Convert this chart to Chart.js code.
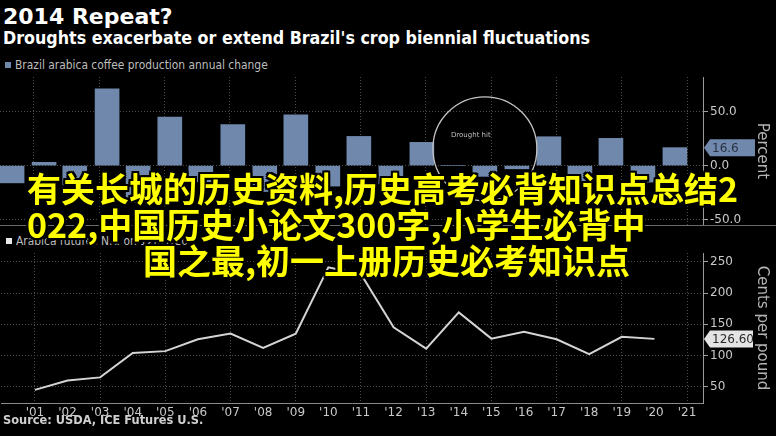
<!DOCTYPE html>
<html><head><meta charset="utf-8">
<script src="https://cdn.jsdelivr.net/npm/chart.js@4.4.1/dist/chart.umd.min.js"></script>
<style>
html,body{margin:0;padding:0;background:#000;width:776px;height:436px;overflow:hidden}
body{position:relative;font-family:"DejaVu Sans",sans-serif}
.abs{position:absolute;white-space:nowrap}
#title{left:3px;top:4px;font:bold 22px/26px "DejaVu Sans";color:#fff}
#subtitle{left:3px;top:28px;font:bold 17.7px/20px "DejaVu Sans Condensed";color:#fff}
.legend{font:11.9px/13px "DejaVu Sans Condensed";color:#bdbdbd}
.legend i{display:inline-block;width:6px;height:6px;margin-right:4px;vertical-align:1px}
#leg1{left:5px;top:59px}
#leg2{left:6px;top:235px}
#topWrap{left:0;top:55px;width:776px;height:190px}
#botWrap{left:0;top:233px;width:776px;height:203px}
#sep{left:0;top:225px;width:776px;height:1px;background:#6a6a6a}
#source{left:3px;top:414px;font:bold 11.4px/13px "DejaVu Sans";color:#cfcfcf}
.ov{font:bold 34px/36px "Noto Sans CJK SC";color:#ffff00;
 text-shadow:2px 0 0 #000,-2px 0 0 #000,0 2px 0 #000,0 -2px 0 #000,2px 2px 0 #000,-2px -2px 0 #000,2px -2px 0 #000,-2px 2px 0 #000}
#ov1{left:27px;top:170px}
#ov2{left:27px;top:206px}
#ov3{left:143px;top:242px}
</style></head>
<body>
<div class="abs" id="title">2014 Repeat?</div>
<div class="abs" id="subtitle">Droughts exacerbate or extend Brazil's crop biennial fluctuations</div>
<div class="abs legend" id="leg1"><i style="background:#6f88ab"></i>Brazil arabica coffee production annual change</div>
<div class="abs legend" id="leg2"><i style="background:#e8e8e8"></i>Arabica futures N.Y. on 12/31/20</div>
<div class="abs" id="topWrap"><canvas id="topChart" width="776" height="190"></canvas></div>
<div class="abs" id="sep"></div>
<div class="abs" id="botWrap"><canvas id="botChart" width="776" height="203"></canvas></div>
<div class="abs" id="source">Source: USDA, ICE Futures U.S.</div>
<div class="abs ov" id="ov1">有关长城的历史资料,历史高考必背知识点总结2</div>
<div class="abs ov" id="ov2">022,中国历史小论文300字,小学生必背中</div>
<div class="abs ov" id="ov3">国之最,初一上册历史必考知识点</div>
<script>
// ---- data ----
const barDates = [2000.33, 2001.31, 2002.25, 2003.24, 2004.19, 2005.16, 2006.11, 2007.09, 2008.07, 2009.02, 2010.00,
                  2010.95, 2011.93, 2012.88, 2013.83, 2014.81, 2015.79, 2016.77, 2017.72, 2018.67, 2019.65, 2020.63];
const productionChange = [-16, 3, -18, 71, -34, 45, -15, 38, -24, 47, -19,
                          27, -17, 21.5, 0, -10, -3, 26.7, -14.7, 25.2, -15.3, 16.6];
const priceYears = [2001, 2002, 2003, 2004, 2005, 2006, 2007, 2008, 2009, 2010,
                    2011, 2012, 2013, 2014, 2015, 2016, 2017, 2018, 2019, 2020];
const futuresPrice = [45, 60, 65, 104, 107, 126, 135, 112, 135, 241,
                      230, 145, 111, 169, 127, 138, 126, 102, 130, 126.6];
const tickYears = [2001, 2002, 2003, 2004, 2005, 2006, 2007, 2008, 2009, 2010, 2011,
                   2012, 2013, 2014, 2015, 2016, 2017, 2018, 2019, 2020, 2021];
const xTickLabels = ["'01","'02","'03","'04","'05","'06","'07","'08","'09","'10","'11",
                     "'12","'13","'14","'15","'16","'17","'18","'19","'20","'21"];
const pctTicks = [-50, 0, 50];
const centsTicks = [50, 100, 150, 200, 250];
const droughtNote = {x: 2014.81, y: 15.5, text: 'Drought hit', textX: 2014.38, textY: 28};

const X_MIN = 1999.96, X_MAX = 2021.49;
const BAR = '#6f88ab';
const GRID = '#4a4a4a';
const LABEL = '#c8c8c8';

const oddGrid = ctx => (ctx.tick && Math.round(ctx.tick.value) % 2 === 1) ? GRID : 'rgba(0,0,0,0)';

const lastValueTag = {
  id: 'lastValueTag',
  afterDraw(chart, args, opts) {
    const data = chart.data.datasets[0].data;
    const last = data[data.length - 1];
    const y = chart.scales.y.getPixelForValue(last.y);
    const x0 = chart.chartArea.right + 1;
    const ctx = chart.ctx, h = 17, tip = 6, w = opts.width;
    ctx.save();
    ctx.beginPath();
    ctx.moveTo(x0, y); ctx.lineTo(x0 + tip, y - h / 2); ctx.lineTo(x0 + w, y - h / 2);
    ctx.lineTo(x0 + w, y + h / 2); ctx.lineTo(x0 + tip, y + h / 2); ctx.closePath();
    ctx.fillStyle = opts.fill; ctx.fill();
    ctx.fillStyle = opts.color;
    ctx.font = '12px "DejaVu Sans"';
    ctx.textBaseline = 'middle'; ctx.textAlign = 'left';
    ctx.fillText(last.y.toFixed(opts.decimals), x0 + tip + 2, y + 1);
    ctx.restore();
  }
};

const circleNote = {
  id: 'circleNote',
  afterDatasetsDraw(chart) {
    const {x, y} = chart.scales;
    const ctx = chart.ctx;
    const cx = x.getPixelForValue(droughtNote.x), cy = y.getPixelForValue(droughtNote.y);
    ctx.save();
    ctx.beginPath();
    ctx.arc(cx, cy, 52, 0, Math.PI * 2);
    ctx.strokeStyle = '#c4c4c4'; ctx.lineWidth = 1.3; ctx.stroke();
    ctx.fillStyle = '#bdbdbd';
    ctx.font = '7px "DejaVu Sans"';
    ctx.textAlign = 'center'; ctx.textBaseline = 'middle';
    ctx.fillText(droughtNote.text, x.getPixelForValue(droughtNote.textX), y.getPixelForValue(droughtNote.textY));
    ctx.restore();
  }
};

const yTitle = (text) => ({display: true, text, color: '#b4b4b4', font: {family: 'DejaVu Sans', size: 15}, padding: {top: 5, bottom: 0}});

// place the plot area at a given top/bottom inside its canvas
function fitArea(chart, top, bottom) {
  for (let k = 0; k < 4; k++) {
    const a = chart.chartArea;
    const p = chart.config.options.layout.padding;
    p.top = Math.max(0, p.top + (top - a.top));
    p.bottom = Math.max(0, p.bottom + (a.bottom - bottom));
    chart.update();
  }
}

const topChart = new Chart(document.getElementById('topChart'), {
  type: 'bar',
  data: {datasets: [{data: barDates.map((d, i) => ({x: d, y: productionChange[i]})),
    backgroundColor: BAR, borderWidth: 0, barThickness: 24}]},
  options: {
    responsive: false, animation: false,
    layout: {padding: {top: 14, bottom: 12, left: 0, right: 0}},
    plugins: {legend: {display: false}, tooltip: {enabled: false},
      lastValueTag: {fill: BAR, color: '#2a3345', width: 51, decimals: 1}},
    scales: {
      x: {type: 'linear', min: X_MIN, max: X_MAX, offset: false,
        afterBuildTicks: s => { s.ticks = tickYears.map(v => ({value: v})); },
        ticks: {display: false},
        grid: {color: oddGrid, drawTicks: false, offset: false},
        border: {display: false, dash: [1, 2]},
        afterFit: s => { s.height = 0; }},
      y: {position: 'right', min: -55, max: 82,
        afterBuildTicks: s => { s.ticks = pctTicks.map(v => ({value: v})); },
        ticks: {color: LABEL, font: {family: 'DejaVu Sans', size: 12}, padding: 2,
          callback: v => Number(v).toFixed(1)},
        grid: {color: GRID, tickColor: '#a0a0a0', tickLength: 5},
        border: {display: true, color: '#9a9a9a', dash: [1, 2]},
        title: yTitle('Percent'),
        afterFit: s => { s.width = 73; }}
    }
  },
  plugins: [lastValueTag, circleNote]
});
fitArea(topChart, 22, 170);

const botChart = new Chart(document.getElementById('botChart'), {
  type: 'line',
  data: {datasets: [{data: priceYears.map((d, i) => ({x: d, y: futuresPrice[i]})),
    borderColor: '#d4d4d4', borderWidth: 2, pointRadius: 0, tension: 0}]},
  options: {
    responsive: false, animation: false,
    layout: {padding: {top: 14, bottom: 13, left: 0, right: 0}},
    plugins: {legend: {display: false}, tooltip: {enabled: false},
      lastValueTag: {fill: '#e4e4e4', color: '#2a2a2a', width: 49, decimals: 2}},
    scales: {
      x: {type: 'linear', min: X_MIN, max: X_MAX,
        afterBuildTicks: s => { s.ticks = tickYears.map(v => ({value: v})); },
        ticks: {color: LABEL, font: {family: 'DejaVu Sans', size: 12}, padding: 3,
          autoSkip: false, maxRotation: 0, callback: (v, i) => xTickLabels[i]},
        grid: {color: oddGrid, drawTicks: false},
        border: {display: true, color: '#8a8a8a', dash: [1, 2]},
        afterFit: s => { s.height = 20; }},
      y: {position: 'right', min: 24, max: 264,
        afterBuildTicks: s => { s.ticks = centsTicks.map(v => ({value: v})); },
        ticks: {color: LABEL, font: {family: 'DejaVu Sans', size: 12}, padding: 2},
        grid: {color: GRID, tickColor: '#a0a0a0', tickLength: 5},
        border: {display: true, color: '#9a9a9a', dash: [1, 2]},
        title: yTitle('Cents per pound'),
        afterFit: s => { s.width = 73; }}
    }
  },
  plugins: [lastValueTag]
});
fitArea(botChart, 20, 170);
</script>
</body></html>
